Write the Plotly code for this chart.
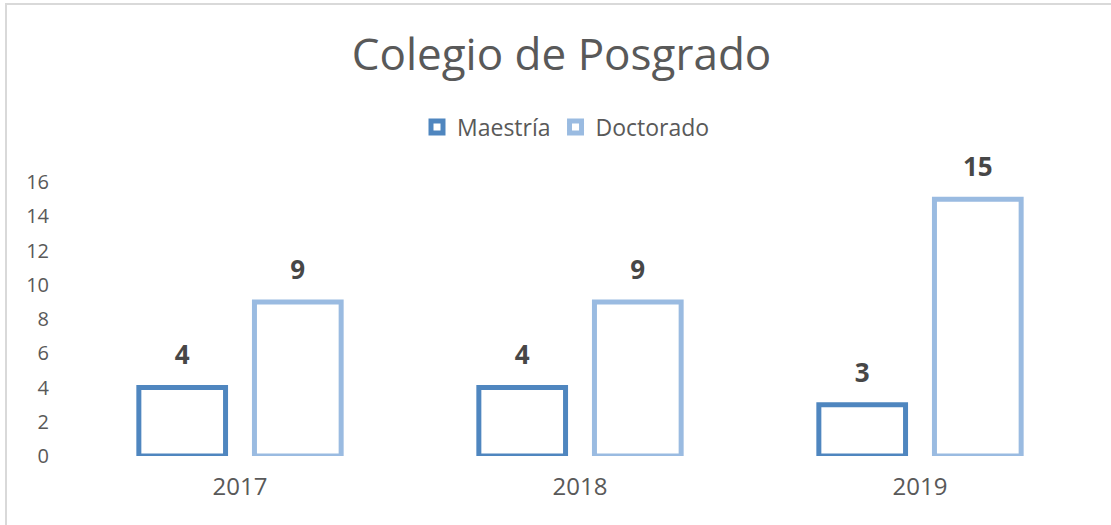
import plotly.graph_objects as go

years = ["2017", "2018", "2019"]
maestria = [4, 4, 3]
doctorado = [9, 9, 15]
series_names = ["Maestría", "Doctorado"]
colors = ["#4F86BF", "#9ABBE1"]
y_ticks = [0, 2, 4, 6, 8, 10, 12, 14, 16]

W, H = 1111, 525
ML, MR, MT, MB = 70, 21, 182, 69
FONT = "Open Sans"
BARGAP = 0.32

fig = go.Figure()
for name, vals, col in zip(series_names, [maestria, doctorado], colors):
    fig.add_trace(go.Bar(
        x=years, y=vals, name=name,
        marker=dict(color="rgba(255,255,255,0)", line=dict(color=col, width=5)),
        offsetgroup=name,
    ))
for name, vals in zip(series_names, [maestria, doctorado]):
    fig.add_trace(go.Scatter(
        x=years, y=vals, mode="markers+text", text=[str(v) for v in vals],
        textposition="top center",
        textfont=dict(family=FONT, size=26, color="#474747", weight="bold"),
        marker=dict(size=25, opacity=0),
        offsetgroup=name, showlegend=False, hoverinfo="skip", cliponaxis=False,
    ))

pw = W - ML - MR
ph = H - MT - MB
bx0 = (6 - ML) / pw
by1 = (H - MB - 4) / ph
fig.add_shape(type="rect", xref="paper", yref="paper",
              x0=bx0, x1=(W + 50 - ML) / pw, y0=-(MB + 50) / ph, y1=by1,
              line=dict(color="#D9D9D9", width=2), fillcolor="rgba(0,0,0,0)", layer="below")

fig.update_layout(
    width=W, height=H,
    margin=dict(l=ML, r=MR, t=MT, b=MB, autoexpand=False),
    paper_bgcolor="white", plot_bgcolor="white",
    barmode="group", bargap=BARGAP, bargroupgap=0.25,
    scattermode="group", scattergap=BARGAP,
    title=dict(text="Colegio de Posgrado", x=561.5 / W, xanchor="center",
               y=1 - 55 / H, yanchor="middle",
               font=dict(family=FONT, size=44, color="#595959")),
    legend=dict(orientation="h", x=(566 - ML) / pw, xanchor="center",
                y=(H - MB - 127) / ph, yanchor="middle",
                font=dict(family=FONT, size=23, color="#595959"), bgcolor="rgba(0,0,0,0)"),
    showlegend=True,
    xaxis=dict(showline=False, showgrid=False, zeroline=False, ticks="",
               tickfont=dict(family=FONT, size=24, color="#595959"), ticklabelstandoff=14),
    yaxis=dict(range=[0, 16], tickvals=y_ticks, showline=False, showgrid=False, zeroline=False,
               ticks="", tickfont=dict(family=FONT, size=20, color="#595959"), ticklabelstandoff=20),
    font=dict(family=FONT, color="#595959"),
)

fig.write_html("out.html", config={"displayModeBar": False},
               post_script="document.body.style.margin='0';")
